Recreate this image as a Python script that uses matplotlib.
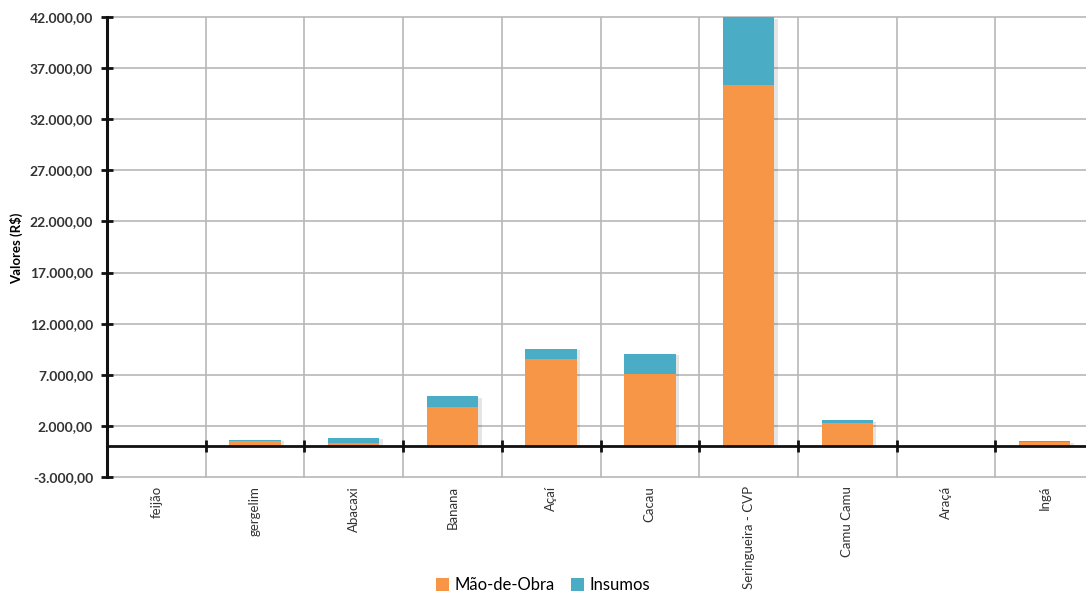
import matplotlib
matplotlib.use('Agg')
import matplotlib.pyplot as plt
import matplotlib.ticker as ticker
import numpy as np

# ── Data ──────────────────────────────────────────────────────────────────────

culturas = ['feijão', 'gergelim', 'Abacaxi', 'Banana', 'Açaí', 'Cacau',
            'Seringueira - CVP', 'Camu Camu', 'Araçá', 'Ingá']
mao_de_obra = [0, 480, 360, 3800, 8500, 7050, 35300, 2300, 0, 400]
insumos     = [0, 180, 500, 1100, 1050, 2000, 6700, 250, 0, 100]

y_ticks = [-3000, 2000, 7000, 12000, 17000, 22000, 27000, 32000, 37000, 42000]

# ── Style ─────────────────────────────────────────────────────────────────────

COR_MAO = '#F79646'
COR_INS = '#4BACC6'
plt.rcParams['font.family'] = ['Lato', 'DejaVu Sans']


def br_fmt(v, pos):
    s = f'{v:,.2f}'
    return s.replace(',', 'X').replace('.', ',').replace('X', '.')


fig = plt.figure(figsize=(10.86, 5.96), dpi=100)
ax = fig.add_axes([107 / 1086, 1 - 479 / 596, 987 / 1086, 462 / 596])

x = np.arange(len(culturas))
w = 0.52

# drop shadow
ax.bar(x + 0.035, np.array(mao_de_obra) + np.array(insumos), w, bottom=-150,
       color='#000000', alpha=0.10, zorder=2, linewidth=0)
ax.bar(x, mao_de_obra, w, color=COR_MAO, label='Mão-de-Obra', zorder=3, linewidth=0)
ax.bar(x, insumos, w, bottom=mao_de_obra, color=COR_INS, label='Insumos',
       zorder=3, linewidth=0)

ax.set_xlim(-0.5, len(culturas) - 0.5)
ax.set_ylim(-3200, 42000)

# grid
for t in y_ticks:
    ax.axhline(t, color='#b8b8b8', linewidth=1.2, zorder=1, clip_on=False)
for b in x[:-1] + 0.5:
    ax.plot([b, b], [-3000, 42000], color='#b8b8b8', linewidth=1.2, zorder=1)

# zero line with boundary ticks
ax.axhline(0, color='#111111', linewidth=2.0, zorder=4)
ax.plot(x[:-1] + 0.5, np.zeros(len(x) - 1), linestyle='none', marker='|',
        markersize=9, markeredgewidth=2, color='#111111', zorder=5, clip_on=False)

for s in ['top', 'right', 'bottom']:
    ax.spines[s].set_visible(False)
ax.spines['left'].set_linewidth(2.2)
ax.spines['left'].set_color('#111111')
ax.spines['left'].set_zorder(6)
ax.spines['left'].set_bounds(-3000, 42000)

ax.set_yticks(y_ticks)
ax.yaxis.set_major_formatter(ticker.FuncFormatter(br_fmt))
ax.tick_params(axis='y', direction='inout', length=8, width=2, labelsize=10,
               colors='#111111', pad=6)
for lbl in ax.get_yticklabels():
    lbl.set_fontweight('bold')
    lbl.set_color('#333333')

ax.set_xticks(x)
ax.set_xticklabels(culturas, rotation=90, fontsize=9.5, color='#333333')
ax.tick_params(axis='x', length=0, pad=5)

ax.set_ylabel('Valores (R$)', fontsize=9.5, fontweight='bold')
ax.yaxis.set_label_coords(-0.085, 0.5)

fig.legend(loc='center', bbox_to_anchor=(0.5, 1 - 585 / 596), ncol=2,
           frameon=False, fontsize=12, handlelength=0.8, handleheight=0.8,
           handletextpad=0.3, columnspacing=1.0)

fig.savefig('out.png', dpi=100)
